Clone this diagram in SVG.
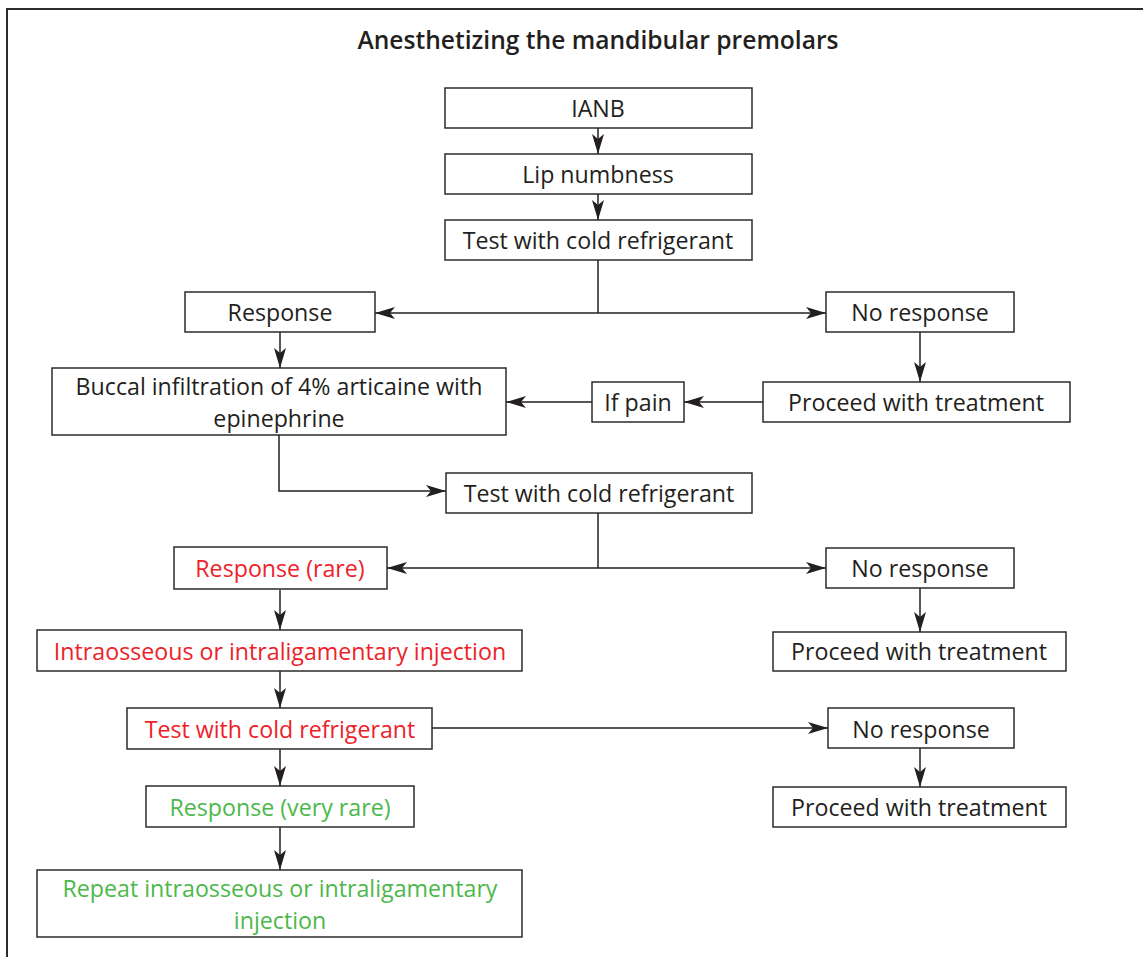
<svg xmlns="http://www.w3.org/2000/svg" width="1143" height="957" viewBox="0 0 1143 957">
<style>
.box{fill:#fff;stroke:#2b2b2b;stroke-width:1.5}
.t{font-family:"Open Sans","Noto Sans","Liberation Sans",sans-serif;font-size:23.2px;fill:#231f20;text-anchor:middle;dominant-baseline:central}
.red{fill:#ed2229}
.green{fill:#4cb84a}
.title{font-family:"Open Sans","Noto Sans","Liberation Sans",sans-serif;font-size:24.6px;font-weight:600;fill:#231f20;text-anchor:middle}
.c{fill:none;stroke:#231f20;stroke-width:1.5}
</style>
<defs>
<marker id="ah" viewBox="0 0 20 12" refX="20" refY="6" markerWidth="20" markerHeight="12" markerUnits="userSpaceOnUse" orient="auto">
<path d="M0,0 L20,6 L0,12 L5,6 Z" fill="#231f20"/>
</marker>
</defs>
<rect width="1143" height="957" fill="#fff"/>
<path d="M7,957 V9 H1143" fill="none" stroke="#2b2b2b" stroke-width="2"/>
<text class="title" x="598" y="49">Anesthetizing the mandibular premolars</text>

<g id="connectors">
<path class="c" d="M598,128 V154" marker-end="url(#ah)"/>
<path class="c" d="M598,194 V220" marker-end="url(#ah)"/>
<path class="c" d="M598,260 V313"/>
<path class="c" d="M598,313 H375" marker-end="url(#ah)"/>
<path class="c" d="M598,313 H826" marker-end="url(#ah)"/>
<path class="c" d="M280,332 V368" marker-end="url(#ah)"/>
<path class="c" d="M920,332 V382" marker-end="url(#ah)"/>
<path class="c" d="M763,402 H684" marker-end="url(#ah)"/>
<path class="c" d="M592,402 H506" marker-end="url(#ah)"/>
<path class="c" d="M279,435 V491 H446" marker-end="url(#ah)"/>
<path class="c" d="M598,513 V568"/>
<path class="c" d="M598,568 H387" marker-end="url(#ah)"/>
<path class="c" d="M598,568 H826" marker-end="url(#ah)"/>
<path class="c" d="M280,590 V630" marker-end="url(#ah)"/>
<path class="c" d="M920,588 V632" marker-end="url(#ah)"/>
<path class="c" d="M280,671 V708" marker-end="url(#ah)"/>
<path class="c" d="M432,728 H828" marker-end="url(#ah)"/>
<path class="c" d="M920,748 V787" marker-end="url(#ah)"/>
<path class="c" d="M280,749 V786" marker-end="url(#ah)"/>
<path class="c" d="M280,827 V870" marker-end="url(#ah)"/>
</g>

<g id="ianb"><rect class="box" x="445" y="88" width="307" height="40"/><text class="t" x="598" y="108">IANB</text></g>
<g id="lip"><rect class="box" x="445" y="154" width="307" height="40"/><text class="t" x="598" y="174">Lip numbness</text></g>
<g id="test1"><rect class="box" x="445" y="220" width="307" height="40"/><text class="t" x="598" y="240">Test with cold refrigerant</text></g>
<g id="resp1"><rect class="box" x="185" y="292" width="190" height="40"/><text class="t" x="280" y="312">Response</text></g>
<g id="noresp1"><rect class="box" x="826" y="292" width="188" height="40"/><text class="t" x="920" y="312">No response</text></g>
<g id="buccal"><rect class="box" x="52" y="368" width="454" height="67"/><text class="t" x="279" y="385.5"><tspan x="279" y="385.5">Buccal infiltration of 4% articaine with</tspan><tspan x="279" y="417.5">epinephrine</tspan></text></g>
<g id="ifpain"><rect class="box" x="592" y="382" width="92" height="40"/><text class="t" x="638" y="402">If pain</text></g>
<g id="proceed1"><rect class="box" x="763" y="382" width="307" height="40"/><text class="t" x="916" y="402">Proceed with treatment</text></g>
<g id="test2"><rect class="box" x="446" y="473" width="306" height="40"/><text class="t" x="599" y="493">Test with cold refrigerant</text></g>
<g id="resp2"><rect class="box" x="174" y="547" width="213" height="42"/><text class="t red" x="280" y="568">Response (rare)</text></g>
<g id="noresp2"><rect class="box" x="826" y="548" width="188" height="40"/><text class="t" x="920" y="568">No response</text></g>
<g id="proceed2"><rect class="box" x="773" y="632" width="293" height="39"/><text class="t" x="919" y="651">Proceed with treatment</text></g>
<g id="intra"><rect class="box" x="37" y="630" width="485" height="41"/><text class="t red" x="280" y="651">Intraosseous or intraligamentary injection</text></g>
<g id="test3"><rect class="box" x="127" y="708" width="305" height="41"/><text class="t red" x="280" y="729">Test with cold refrigerant</text></g>
<g id="noresp3"><rect class="box" x="828" y="708" width="186" height="40"/><text class="t" x="921" y="729">No response</text></g>
<g id="proceed3"><rect class="box" x="773" y="787" width="293" height="40"/><text class="t" x="919" y="807">Proceed with treatment</text></g>
<g id="resp3"><rect class="box" x="146" y="786" width="268" height="41"/><text class="t green" x="280" y="807">Response (very rare)</text></g>
<g id="repeat"><rect class="box" x="37" y="870" width="485" height="67"/><text class="t green" x="280" y="887.5"><tspan x="280" y="887.5">Repeat intraosseous or intraligamentary</tspan><tspan x="280" y="919.5">injection</tspan></text></g>
</svg>
